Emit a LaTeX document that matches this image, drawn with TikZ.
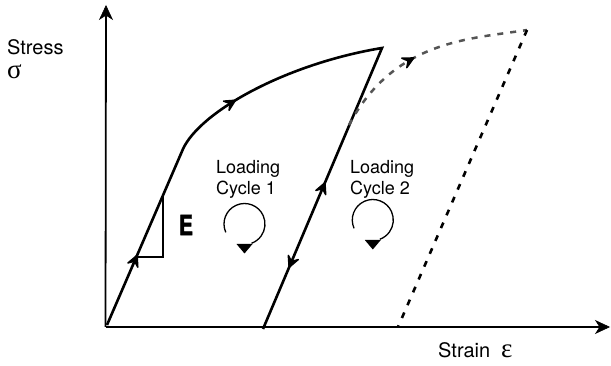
\documentclass[tikz,border=0pt]{standalone}
\usepackage{fontspec}
\setmainfont{TeX Gyre Heros}
\newfontfamily\grk{Liberation Serif}
\newfontfamily\heavyfont[FakeBold=2]{TeX Gyre Heros}
\usetikzlibrary{arrows.meta,decorations.markings,calc}
\definecolor{dashgray}{RGB}{85,85,85}
\tikzset{
  axistip/.tip={Stealth[length=15pt,width=14pt,inset=4.5pt,line width=0.6pt]},
  axisline/.style={line width=1.8pt,-axistip},
  mainline/.style={line width=2.6pt,line join=miter,line cap=butt},
  grayline/.style={line width=2.5pt,dashgray,dash pattern=on 6pt off 7pt},
  blackdash/.style={line width=2.6pt,black,dash pattern=on 6pt off 8pt},
  thinline/.style={line width=1.8pt},
  cycarc/.style={line width=1.3pt},
  bigtext/.style={anchor=base west,inner sep=0pt,font=\fontsize{20}{24}\selectfont},
  greektext/.style={anchor=base west,inner sep=0pt,font=\grk\fontsize{27}{28}\selectfont},
  looptext/.style={anchor=base west,inner sep=0pt,font=\fontsize{18}{22}\selectfont},
  markat/.style 2 args={postaction={decorate},decoration={markings,mark=at position #1 with {#2}}},
  curvearrow/.style={markat={#1}{\arrow{Stealth[length=15pt,width=15pt,inset=6pt,line width=1.5pt,round]}}},
  curvearrowrev/.style={markat={#1}{\arrowreversed{Stealth[length=15pt,width=15pt,inset=6pt,line width=1.5pt,round]}}}
}
\begin{document}
\begin{tikzpicture}[x=1pt,y=-1pt]
\useasboundingbox (0,0) rectangle (611,366);
% key points
\coordinate (O) at (105.5,327);
\coordinate (Ytop) at (106,5);
\coordinate (Xend) at (610,327);
\coordinate (L0) at (107,325);
\coordinate (K) at (183,149);
\coordinate (P) at (382,48);
\coordinate (U) at (263,329);
\coordinate (S) at (349,125);
\coordinate (P2) at (527,30);
\coordinate (U2) at (398,327);
\coordinate (Ea) at (136.7,257);
\coordinate (Ec) at (163,257);
\coordinate (Eb) at (163,194);
% axes
\draw[axisline] (O) -- (Ytop);
\draw[axisline] (O) -- (Xend);
% loading cycle 1 curve
\draw[mainline] (L0) -- (K) .. controls (200,112) and (285,64) .. (P) -- (U);
\path[curvearrow=0.40] (L0) -- (K);
\path[curvearrow=0.32] (K) .. controls (200,112) and (285,64) .. (P);
\path[curvearrow=0.523] (U) -- (P);
\path[curvearrowrev=0.217] (U) -- (P);
% reloading (cycle 2)
\draw[grayline] (S) .. controls (394,40) and (470,39) .. (P2);
\path[curvearrow=0.45] (S) .. controls (394,40) and (470,39) .. (P2);
\draw[blackdash] (P2) -- (U2);
% modulus triangle
\draw[thinline,line join=miter] (Ea) -- (Ec) -- (Eb);
\node[inner sep=0pt] (E) at (186,225) {\heavyfont\bfseries\fontsize{28}{28}\selectfont\scalebox{0.75}[1]{E}};
% cycle symbols
\coordinate (C1) at (244.5,224);
\coordinate (C2) at (372.8,220);
\draw[cycarc] ($(C1)+(156:20.5)$) arc (156:430:20.5);
\draw[cycarc] ($(C2)+(156:20.5)$) arc (156:430:20.5);
\fill ($(C1)+(-8,20)$) -- ($(C1)+(8,20)$) -- ($(C1)+(0,29.5)$) -- cycle;
\fill ($(C2)+(-8,20)$) -- ($(C2)+(8,20)$) -- ($(C2)+(0,29.5)$) -- cycle;
% texts
\node[bigtext] (stress) at (7,55) {Stress};
\node[greektext] (sigma) at (7,79) {σ};
\node[bigtext] (strain) at (438,357.5) {Strain};
\node[greektext] (eps) at (501,357.5) {ε};
\node[looptext] (load1) at (216,173.5) {Loading};
\node[looptext] (cyc1) at (216,195) {Cycle 1};
\node[looptext] (load2) at (350,173.5) {Loading};
\node[looptext] (cyc2) at (350,194.5) {Cycle 2};
\end{tikzpicture}
\end{document}
